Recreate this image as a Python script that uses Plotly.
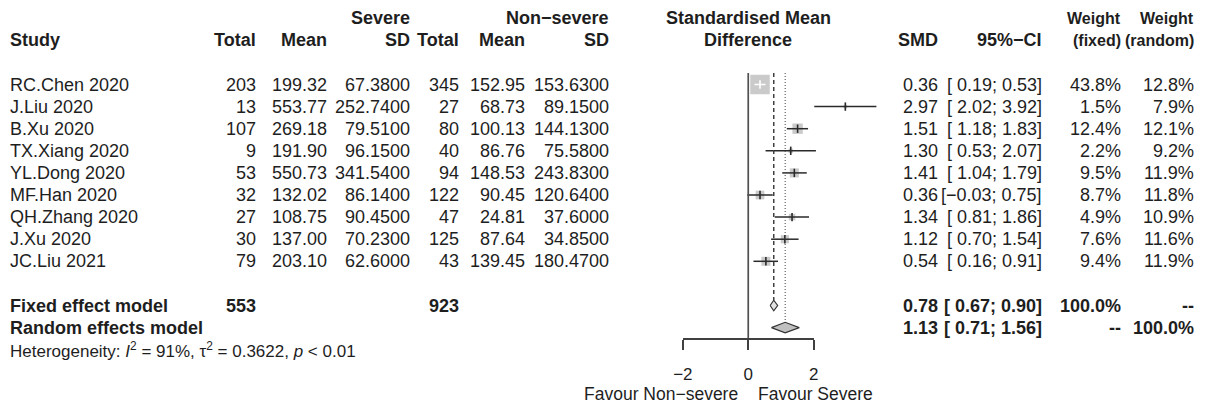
import math
import plotly.graph_objects as go

# ---------------- data ----------------
studies = ["RC.Chen 2020", "J.Liu 2020", "B.Xu 2020", "TX.Xiang 2020", "YL.Dong 2020",
           "MF.Han 2020", "QH.Zhang 2020", "J.Xu 2020", "JC.Liu 2021"]
sev_total = [203, 13, 107, 9, 53, 32, 27, 30, 79]
sev_mean = [199.32, 553.77, 269.18, 191.90, 550.73, 132.02, 108.75, 137.00, 203.10]
sev_sd = [67.38, 252.74, 79.51, 96.15, 341.54, 86.14, 90.45, 70.23, 62.60]
non_total = [345, 27, 80, 40, 94, 122, 47, 125, 43]
non_mean = [152.95, 68.73, 100.13, 86.76, 148.53, 90.45, 24.81, 87.64, 139.45]
non_sd = [153.63, 89.15, 144.13, 75.58, 243.83, 120.64, 37.60, 34.85, 180.47]
smd = [0.36, 2.97, 1.51, 1.30, 1.41, 0.36, 1.34, 1.12, 0.54]
ci_low = [0.19, 2.02, 1.18, 0.53, 1.04, -0.03, 0.81, 0.70, 0.16]
ci_high = [0.53, 3.92, 1.83, 2.07, 1.79, 0.75, 1.86, 1.54, 0.91]
weight_fixed = [43.8, 1.5, 12.4, 2.2, 9.5, 8.7, 4.9, 7.6, 9.4]
weight_random = [12.8, 7.9, 12.1, 9.2, 11.9, 11.8, 10.9, 11.6, 11.9]

fixed_smd, fixed_low, fixed_high = 0.78, 0.67, 0.90
random_smd, random_low, random_high = 1.13, 0.71, 1.56
total_severe, total_nonsevere = 553, 923
het_i2, het_tau2, het_p = "91%", "0.3622", "0.01"
x_ticks = [-2, 0, 2]
label_left, label_right = "Favour Non\u2212severe", "Favour Severe"

# ---------------- layout constants ----------------
W, H = 1211, 405
ROW0, ROWH = 84.5, 22.1          # pixel y of first study row, row height
X0PX, PXU = 747.5, 33.1          # pixel x of SMD=0, pixels per SMD unit
FONT = "Liberation Sans, Arial, sans-serif"
FS = 18
TXT = "#1e1e1e"
LINE = "#404040"
SQ_MAX = 19.5

n = len(studies)
rows = list(range(n))
FIXED_ROW = n + 1
RANDOM_ROW = n + 2
HET_ROW = n + 3
HDR1, HDR2 = -3, -2
TOP_ROW = -0.52
AXIS_ROW = 11.47
FAV_ROW = 14.0
DIA_H = 0.24

ymin = -ROW0 / ROWH
ymax = (H - ROW0) / ROWH
xmin = -X0PX / PXU
xmax = (W - X0PX) / PXU


def f(v, d):
    return f"{v:.{d}f}".replace("-", "\u2212")


def ci(lo, hi):
    return "[" + f(lo, 2).rjust(5) + "; " + f(hi, 2) + "]"


fig = go.Figure()

# squares (area proportional to fixed-effect weight)
wmax = max(weight_fixed)
sizes = [SQ_MAX * math.sqrt(w / wmax) for w in weight_fixed]
fig.add_trace(go.Scatter(x=smd, y=rows, mode="markers",
                         marker=dict(symbol="square", size=sizes, color="#b3b3b3", line=dict(width=0)),
                         hoverinfo="skip", showlegend=False))

inside = []
for i in range(n):
    hw = sizes[i] / 2 / PXU
    inside.append(ci_low[i] >= smd[i] - hw and ci_high[i] <= smd[i] + hw)

for flag, col in [(False, "#2a2a2a"), (True, "white")]:
    xs, ys = [], []
    for i in range(n):
        if inside[i] == flag:
            xs += [ci_low[i], ci_high[i], None]
            ys += [rows[i], rows[i], None]
    if xs:
        fig.add_trace(go.Scatter(x=xs, y=ys, mode="lines", line=dict(color=col, width=1.5),
                                 hoverinfo="skip", showlegend=False))

fig.add_trace(go.Scatter(x=smd, y=rows, mode="markers",
                         marker=dict(symbol="line-ns", size=6,
                                     line=dict(width=1.6, color=["white" if b else "#2a2a2a" for b in inside])),
                         hoverinfo="skip", showlegend=False))

# diamonds
for est, lo, hi, r, fillc in [(fixed_smd, fixed_low, fixed_high, FIXED_ROW, "#e2e2e2"),
                              (random_smd, random_low, random_high, RANDOM_ROW, "#c0c0c0")]:
    fig.add_trace(go.Scatter(x=[lo, est, hi, est, lo], y=[r, r - DIA_H, r, r + DIA_H, r],
                             mode="lines", fill="toself", fillcolor=fillc,
                             line=dict(color="#333333", width=1.2),
                             hoverinfo="skip", showlegend=False))

# invisible anchor trace for the bottom axis subplot
fig.add_trace(go.Scatter(x=[0], y=[0], xaxis="x2", yaxis="y2", mode="markers",
                         marker=dict(opacity=0), hoverinfo="skip", showlegend=False))

# reference lines
fig.add_shape(type="line", xref="x", yref="y", x0=0, x1=0, y0=TOP_ROW, y1=AXIS_ROW,
              line=dict(color="#505050", width=1.7))
fig.add_shape(type="line", xref="x", yref="y", x0=fixed_smd, x1=fixed_smd, y0=TOP_ROW, y1=FIXED_ROW - DIA_H,
              line=dict(color=LINE, width=1.5, dash="4px,3px"))
fig.add_shape(type="line", xref="x", yref="y", x0=random_smd, x1=random_smd, y0=TOP_ROW, y1=RANDOM_ROW - DIA_H,
              line=dict(color="#555555", width=1.1, dash="1px,2px"))

# ---------------- text ----------------
ann = []


def txt(px, row, s, anchor="right", bold=False, size=FS, xref="paper", x=None):
    if bold:
        s = "<b>" + s + "</b>"
    ann.append(dict(x=(px / W) if x is None else x, xref=xref, y=row, yref="y", text=s,
                    xanchor=anchor, yanchor="middle", showarrow=False, borderpad=0, borderwidth=0,
                    font=dict(family=FONT, size=size, color=TXT)))


C_STUDY = 0
C_ST, C_SM, C_SS = 249, 321, 405
C_NT, C_NM, C_NS = 455, 521, 607
C_SMD, C_CI, C_WF, C_WR = 940, 1045, 1125, 1199
C_FOREST = X0PX
FS_W = 16

# headers
txt(C_SS, HDR1, "Severe", bold=True)
txt(C_NS, HDR1, "Non\u2212severe", bold=True)
txt(C_FOREST, HDR1, "Standardised Mean", anchor="center", bold=True)
txt(C_WF, HDR1, "Weight", bold=True, size=FS_W)
txt(C_WR, HDR1, "Weight", bold=True, size=FS_W)
txt(C_STUDY, HDR2, "Study", anchor="left", bold=True)
txt(C_ST, HDR2, "Total", bold=True)
txt(C_SM, HDR2, "Mean", bold=True)
txt(C_SS, HDR2, "SD", bold=True)
txt(C_NT, HDR2, "Total", bold=True)
txt(C_NM, HDR2, "Mean", bold=True)
txt(C_NS, HDR2, "SD", bold=True)
txt(C_FOREST, HDR2, "Difference", anchor="center", bold=True)
txt(C_SMD, HDR2, "SMD", bold=True)
txt(C_CI, HDR2, "95%\u2212CI", bold=True)
txt(C_WF, HDR2, "(fixed)", bold=True, size=FS_W)
txt(C_WR, HDR2, "(random)", bold=True, size=FS_W)

for i in range(n):
    r = rows[i]
    txt(C_STUDY, r, studies[i], anchor="left")
    txt(C_ST, r, str(sev_total[i]))
    txt(C_SM, r, f(sev_mean[i], 2))
    txt(C_SS, r, f(sev_sd[i], 4))
    txt(C_NT, r, str(non_total[i]))
    txt(C_NM, r, f(non_mean[i], 2))
    txt(C_NS, r, f(non_sd[i], 4))
    txt(C_SMD, r, f(smd[i], 2))
    txt(C_CI, r, ci(ci_low[i], ci_high[i]))
    txt(C_WF, r, f(weight_fixed[i], 1) + "%")
    txt(C_WR, r, f(weight_random[i], 1) + "%")

txt(C_STUDY, FIXED_ROW, "Fixed effect model", anchor="left", bold=True)
txt(C_ST, FIXED_ROW, str(total_severe), bold=True)
txt(C_NT, FIXED_ROW, str(total_nonsevere), bold=True)
txt(C_SMD, FIXED_ROW, f(fixed_smd, 2), bold=True)
txt(C_CI, FIXED_ROW, ci(fixed_low, fixed_high), bold=True)
txt(C_WF, FIXED_ROW, "100.0%", bold=True)
txt(C_WR, FIXED_ROW, "--", bold=True)

txt(C_STUDY, RANDOM_ROW, "Random effects model", anchor="left", bold=True)
txt(C_SMD, RANDOM_ROW, f(random_smd, 2), bold=True)
txt(C_CI, RANDOM_ROW, ci(random_low, random_high), bold=True)
txt(C_WF, RANDOM_ROW, "--", bold=True)
txt(C_WR, RANDOM_ROW, "100.0%", bold=True)

txt(C_STUDY, HET_ROW,
    f"Heterogeneity: <i>I</i><sup>2</sup> = {het_i2}, \u03c4<sup>2</sup> = {het_tau2}, <i>p</i> &lt; {het_p}",
    anchor="left", size=17)

txt(0, FAV_ROW, label_left, anchor="right", xref="x", x=-0.3, size=17.5)
txt(0, FAV_ROW, label_right, anchor="left", xref="x", x=0.3, size=17.5)

axis_paper = (ymax - AXIS_ROW) / (ymax - ymin)

fig.update_layout(
    width=W, height=H, margin=dict(l=0, r=0, t=0, b=0),
    paper_bgcolor="white", plot_bgcolor="rgba(0,0,0,0)",
    showlegend=False, annotations=ann,
    xaxis=dict(domain=[0, 1], range=[xmin, xmax], visible=False, fixedrange=True),
    yaxis=dict(domain=[0, 1], range=[ymax, ymin], visible=False, fixedrange=True),
    xaxis2=dict(domain=[(X0PX + x_ticks[0] * PXU) / W, (X0PX + x_ticks[-1] * PXU) / W],
                range=[x_ticks[0], x_ticks[-1]], anchor="y2",
                tickvals=x_ticks, ticks="outside", ticklen=10, tickwidth=1.5, tickcolor=LINE,
                showline=True, linecolor=LINE, linewidth=1.5, showgrid=False, zeroline=False,
                tickfont=dict(family=FONT, size=17, color=TXT), ticklabelstandoff=10,
                fixedrange=True),
    yaxis2=dict(domain=[axis_paper, min(1, axis_paper + 0.02)], anchor="x2", visible=False,
                range=[0, 1], fixedrange=True),
)

fig.write_html("out.html", config={"displayModeBar": False},
               post_script="document.body.style.margin='0px';")
